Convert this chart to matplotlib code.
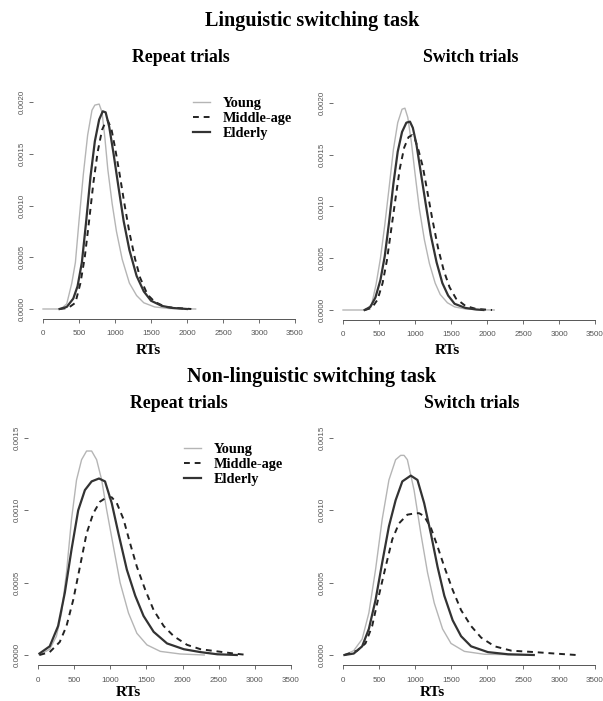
import matplotlib.pyplot as plt

W, H = 603, 701

# ---- values: RT (ms) and density ----
# Linguistic switching task, repeat trials
ling_rep_young_x = [0, 250, 330, 400, 450, 500, 560, 620, 680, 720, 780, 820, 860, 900, 960, 1020, 1100, 1200, 1300, 1400, 1550, 1750, 2120]
ling_rep_young_y = [0, 0, 0.00005, 0.00025, 0.00045, 0.00085, 0.0013, 0.00168, 0.00192, 0.00197, 0.00198, 0.0019, 0.00165, 0.00135, 0.00102, 0.00075, 0.00048, 0.00025, 0.00013, 0.00006, 0.00002, 0.000005, 0]
ling_rep_middle_x = [230, 350, 450, 520, 580, 640, 700, 760, 820, 870, 900, 950, 1000, 1060, 1130, 1200, 1280, 1350, 1450, 1550, 1700, 1850, 2060]
ling_rep_middle_y = [0, 0.00001, 0.00006, 0.00025, 0.0005, 0.00085, 0.00122, 0.00152, 0.00173, 0.00181, 0.00182, 0.00174, 0.00156, 0.00132, 0.00102, 0.00074, 0.00048, 0.0003, 0.00014, 0.00007, 0.00002, 0.00001, 0]
ling_rep_elderly_x = [230, 330, 420, 480, 540, 600, 660, 720, 780, 830, 870, 920, 980, 1050, 1120, 1200, 1300, 1400, 1500, 1650, 1800, 2000]
ling_rep_elderly_y = [0, 0.00002, 0.0001, 0.00022, 0.00045, 0.00085, 0.00128, 0.00162, 0.00183, 0.00191, 0.0019, 0.00176, 0.0015, 0.00117, 0.00085, 0.00057, 0.00032, 0.00017, 0.00008, 0.00003, 0.00001, 0]

# Linguistic switching task, switch trials
ling_sw_young_x = [0, 330, 400, 460, 520, 580, 640, 700, 760, 820, 860, 900, 950, 1000, 1060, 1130, 1200, 1280, 1350, 1450, 1550, 1700, 1900, 2100]
ling_sw_young_y = [0, 0, 0.00006, 0.00025, 0.0005, 0.00082, 0.00118, 0.00155, 0.00181, 0.00194, 0.00195, 0.00186, 0.00162, 0.00132, 0.00098, 0.00068, 0.00045, 0.00026, 0.00015, 0.00007, 0.00003, 0.00001, 0.000002, 0]
ling_sw_middle_x = [300, 400, 480, 550, 610, 670, 730, 790, 850, 910, 960, 1000, 1050, 1110, 1170, 1240, 1320, 1400, 1480, 1570, 1700, 1850, 2070]
ling_sw_middle_y = [0, 0.00002, 0.0001, 0.00026, 0.00048, 0.00078, 0.00108, 0.00137, 0.00157, 0.00167, 0.00169, 0.00165, 0.00154, 0.00138, 0.00115, 0.00088, 0.0006, 0.00038, 0.00022, 0.00011, 0.00004, 0.00001, 0]
ling_sw_elderly_x = [300, 380, 450, 520, 580, 640, 700, 760, 820, 880, 930, 970, 1020, 1080, 1150, 1220, 1300, 1380, 1460, 1550, 1700, 1850, 1950]
ling_sw_elderly_y = [0, 0.00003, 0.00012, 0.00029, 0.00052, 0.00085, 0.00122, 0.00153, 0.00172, 0.00181, 0.00182, 0.00176, 0.0016, 0.00133, 0.00102, 0.00072, 0.00046, 0.00026, 0.00014, 0.00006, 0.00002, 0.000005, 0]

# Non-linguistic switching task, repeat trials
nl_rep_young_x = [20, 162, 255, 325, 394, 464, 533, 603, 672, 742, 811, 881, 951, 1043, 1136, 1252, 1368, 1507, 1692, 1970, 2300]
nl_rep_young_y = [0, 0.00004, 0.00013, 0.00029, 0.00057, 0.00094, 0.00121, 0.00135, 0.00141, 0.00141, 0.00135, 0.00121, 0.001, 0.00075, 0.0005, 0.00029, 0.00015, 0.00007, 0.000025, 0.000007, 0]
nl_rep_middle_x = [20, 162, 301, 394, 487, 580, 672, 765, 858, 951, 1020, 1090, 1182, 1275, 1368, 1484, 1600, 1739, 1878, 2063, 2248, 2480, 2712, 2900]
nl_rep_middle_y = [0, 0.00002, 0.00009, 0.0002, 0.00038, 0.00061, 0.00084, 0.00098, 0.00106, 0.00109, 0.00109, 0.00105, 0.00094, 0.00077, 0.00061, 0.00045, 0.00031, 0.0002, 0.00013, 0.00007, 0.00004, 0.000025, 0.00001, 0]
nl_rep_elderly_x = [20, 162, 278, 371, 464, 556, 649, 742, 844, 927, 1020, 1113, 1229, 1345, 1460, 1600, 1785, 2017, 2248, 2480, 2750]
nl_rep_elderly_y = [0.00001, 0.00006, 0.0002, 0.00043, 0.00073, 0.001, 0.00114, 0.0012, 0.00122, 0.0012, 0.00105, 0.00084, 0.00059, 0.00041, 0.00027, 0.00016, 0.00008, 0.00004, 0.00002, 0.000005, 0]

# Non-linguistic switching task, switch trials
nl_sw_young_x = [20, 149, 266, 359, 452, 545, 638, 731, 801, 848, 894, 987, 1081, 1174, 1267, 1383, 1500, 1686, 1965, 2600]
nl_sw_young_y = [0, 0.00003, 0.00011, 0.00029, 0.00059, 0.00094, 0.00121, 0.00135, 0.00138, 0.00138, 0.00135, 0.00114, 0.00084, 0.00057, 0.00036, 0.00018, 0.00008, 0.000025, 0.000005, 0]
nl_sw_middle_x = [20, 196, 312, 405, 498, 592, 685, 778, 894, 1010, 1057, 1127, 1220, 1313, 1407, 1523, 1640, 1779, 1919, 2105, 2338, 2664, 2943, 3240]
nl_sw_middle_y = [0, 0.00003, 0.00008, 0.0002, 0.00041, 0.00061, 0.0008, 0.00091, 0.00097, 0.00098, 0.00098, 0.00096, 0.00088, 0.00075, 0.00061, 0.00045, 0.00031, 0.0002, 0.00012, 0.00006, 0.00003, 0.00002, 0.00001, 0]
nl_sw_elderly_x = [20, 149, 266, 359, 452, 545, 638, 731, 824, 941, 1034, 1127, 1220, 1313, 1407, 1523, 1640, 1779, 2012, 2292, 2650]
nl_sw_elderly_y = [0, 0.00001, 0.00006, 0.00018, 0.00038, 0.00064, 0.00089, 0.00107, 0.0012, 0.00124, 0.00121, 0.00105, 0.00084, 0.00061, 0.00041, 0.00024, 0.00013, 0.00006, 0.00002, 0.000005, 0]

groups = ["Young", "Middle-age", "Elderly"]
x_ticks = [0, 500, 1000, 1500, 2000, 2500, 3000, 3500]
y_ticks_top = [0, 0.0005, 0.001, 0.0015, 0.002]
y_ticks_bottom = [0, 0.0005, 0.001, 0.0015]

styles = {
    "Young": dict(color="#b5b5b5", lw=1.0, ls="-"),
    "Middle-age": dict(color="#222222", lw=1.4, ls=(0, (3, 2.5))),
    "Elderly": dict(color="#333333", lw=1.6, ls="-"),
}

XLIM = (-140, 3640)
SERIF = "Liberation Serif"
SANS = "Liberation Sans"

fig = plt.figure(figsize=(W / 100, H / 100), dpi=100)


def add_panel(x0, x1, y0, y1, yref, ylim, yticks):
    """Axes placed so RT 0/3500 land on pixels x0/x1 and density 0/yref on y0/y1."""
    sx = (x1 - x0) / 3500.0
    sy = (y0 - y1) / yref
    left = x0 + XLIM[0] * sx
    right = x0 + XLIM[1] * sx
    bottom = y0 - ylim[0] * sy
    top = y0 - ylim[1] * sy
    ax = fig.add_axes([left / W, 1 - bottom / H, (right - left) / W, (bottom - top) / H])
    ax.set_xlim(*XLIM)
    ax.set_ylim(*ylim)
    for s in ["top", "right", "left"]:
        ax.spines[s].set_visible(False)
    ax.spines["bottom"].set_bounds(0, 3500)
    ax.spines["bottom"].set_color("#555555")
    ax.spines["bottom"].set_linewidth(0.7)
    ax.set_xticks(x_ticks)
    ax.set_xticklabels([str(t) for t in x_ticks], family=SANS, fontsize=5.8, color="#555555")
    ax.set_yticks(yticks)
    ax.set_yticklabels(["%.4f" % t for t in yticks], family=SANS, fontsize=5.8,
                       color="#555555", rotation=90, va="center")
    ax.tick_params(axis="x", length=3, width=0.6, color="#555555", pad=5)
    ax.tick_params(axis="y", length=3, width=0.6, color="#555555", pad=2)
    ax.patch.set_alpha(0)
    return ax


def draw(ax, series):
    handles = []
    for name, (xs, ys) in zip(groups, series):
        h, = ax.plot(xs, ys, **styles[name])
        handles.append(h)
    return handles


def add_legend(ax, handles, x, y):
    ax.legend(handles, groups, loc="upper left", bbox_to_anchor=(x / W, 1 - y / H),
              bbox_transform=fig.transFigure, frameon=False, borderpad=0, borderaxespad=0,
              handlelength=1.2, handletextpad=0.85, labelspacing=0.15,
              prop=dict(family=SERIF, weight="bold", size=10.3))


def ftext(x, y, s, size):
    fig.text(x / W, 1 - y / H, s, ha="center", va="center", family=SERIF,
             weight="bold", fontsize=size)


# top row
ax1 = add_panel(43, 295, 309, 102, 0.002, (-0.0000966, 0.00208), y_ticks_top)
h = draw(ax1, [(ling_rep_young_x, ling_rep_young_y), (ling_rep_middle_x, ling_rep_middle_y),
               (ling_rep_elderly_x, ling_rep_elderly_y)])
add_legend(ax1, h, 193, 97)

ax2 = add_panel(343, 595, 310, 103, 0.002, (-0.0000966, 0.00208), y_ticks_top)
draw(ax2, [(ling_sw_young_x, ling_sw_young_y), (ling_sw_middle_x, ling_sw_middle_y),
           (ling_sw_elderly_x, ling_sw_elderly_y)])

# bottom row
ax3 = add_panel(38, 291, 655, 438, 0.0015, (-0.000072, 0.00156), y_ticks_bottom)
h = draw(ax3, [(nl_rep_young_x, nl_rep_young_y), (nl_rep_middle_x, nl_rep_middle_y),
               (nl_rep_elderly_x, nl_rep_elderly_y)])
add_legend(ax3, h, 184, 443)

ax4 = add_panel(343, 595, 655, 438, 0.0015, (-0.000072, 0.00156), y_ticks_bottom)
draw(ax4, [(nl_sw_young_x, nl_sw_young_y), (nl_sw_middle_x, nl_sw_middle_y),
           (nl_sw_elderly_x, nl_sw_elderly_y)])

# titles and axis labels
ftext(312, 21, "Linguistic switching task", 14.5)
ftext(181, 58, "Repeat trials", 12.8)
ftext(471, 58, "Switch trials", 12.8)
ftext(148, 350, "RTs", 11)
ftext(447, 350, "RTs", 11)

ftext(312, 377, "Non-linguistic switching task", 14.5)
ftext(179, 403, "Repeat trials", 12.8)
ftext(472, 403, "Switch trials", 12.8)
ftext(128, 693, "RTs", 11)
ftext(432, 693, "RTs", 11)

fig.savefig("out.png", dpi=100)
